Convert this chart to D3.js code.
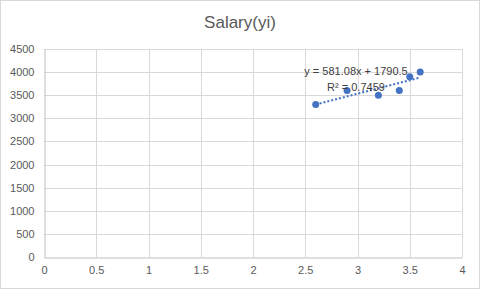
<!DOCTYPE html>
<html>
<head>
<meta charset="utf-8">
<script src="https://cdn.jsdelivr.net/npm/d3@7"></script>
<style>
  body { margin: 0; background: #fff; }
  svg { display: block; font-family: "Liberation Sans", "DejaVu Sans", sans-serif; }
</style>
</head>
<body>
<svg id="chart"></svg>
<script>
// data
const gpa = [2.6, 2.9, 3.2, 3.4, 3.5, 3.6];
const salary = [3300, 3600, 3500, 3600, 3900, 4000];
const xTicks = [0, 0.5, 1, 1.5, 2, 2.5, 3, 3.5, 4];
const yTicks = [0, 500, 1000, 1500, 2000, 2500, 3000, 3500, 4000, 4500];
const title = "Salary(yi)";

const width = 480, height = 289;
const svg = d3.select("#chart")
    .attr("width", width)
    .attr("height", height);

// outer chart border
svg.append("rect")
    .attr("x", 0.5).attr("y", 0.5)
    .attr("width", width - 1).attr("height", height - 1)
    .attr("fill", "#fff")
    .attr("stroke", "#d9d9d9");

svg.append("text")
    .attr("x", 240).attr("y", 28)
    .attr("text-anchor", "middle")
    .attr("font-size", 17)
    .attr("fill", "#595959")
    .text(title);

const xScale = d3.scaleLinear().domain([0, 4]).range([44, 462]);
const yScale = d3.scaleLinear().domain([0, 4500]).range([257, 49]);

// gridlines
svg.append("g").selectAll("line")
    .data(yTicks.slice(1))
    .enter().append("line")
    .attr("x1", xScale(0)).attr("x2", xScale(4))
    .attr("y1", d => Math.round(yScale(d)) + 0.5)
    .attr("y2", d => Math.round(yScale(d)) + 0.5)
    .attr("stroke", "#d9d9d9");
svg.append("g").selectAll("line")
    .data(xTicks.slice(1))
    .enter().append("line")
    .attr("y1", yScale(0)).attr("y2", yScale(4500))
    .attr("x1", d => Math.round(xScale(d)) + 0.5)
    .attr("x2", d => Math.round(xScale(d)) + 0.5)
    .attr("stroke", "#d9d9d9");

// axes
const xAxis = d3.axisBottom(xScale).tickValues(xTicks).tickSize(0).tickPadding(9).tickFormat(d3.format("~g"));
const gx = svg.append("g").attr("transform", `translate(0,${Math.round(yScale(0)) + 0.5})`).call(xAxis);
const yAxis = d3.axisLeft(yScale).tickValues(yTicks).tickSize(0).tickPadding(10).tickFormat(d3.format("d"));
const gy = svg.append("g").attr("transform", `translate(${Math.round(xScale(0)) + 0.5},0)`).call(yAxis);
[gx, gy].forEach(g => {
    g.select(".domain").attr("stroke", "#bfbfbf");
    g.selectAll("text").attr("fill", "#595959").attr("font-size", 11)
        .attr("font-family", "\"Liberation Sans\", sans-serif");
});

// linear trendline (least squares)
const n = gpa.length;
const mx = d3.mean(gpa), my = d3.mean(salary);
let sxy = 0, sxx = 0, syy = 0;
for (let i = 0; i < n; i++) {
    sxy += (gpa[i] - mx) * (salary[i] - my);
    sxx += (gpa[i] - mx) ** 2;
    syy += (salary[i] - my) ** 2;
}
const slope = sxy / sxx;
const intercept = my - slope * mx;
const r2 = sxy * sxy / (sxx * syy);
const x0 = d3.min(gpa), x1 = d3.max(gpa);

svg.append("line")
    .attr("x1", xScale(x0)).attr("y1", yScale(slope * x0 + intercept))
    .attr("x2", xScale(x1)).attr("y2", yScale(slope * x1 + intercept))
    .attr("stroke", "#4472c4")
    .attr("stroke-width", 2)
    .attr("stroke-dasharray", "2,2");

svg.append("g").selectAll("circle")
    .data(gpa.map((g, i) => [g, salary[i]]))
    .enter().append("circle")
    .attr("cx", d => xScale(d[0]))
    .attr("cy", d => yScale(d[1]))
    .attr("r", 3.5)
    .attr("fill", "#4472c4");

const label = svg.append("text")
    .attr("font-size", 11)
    .attr("fill", "#404040")
    .attr("text-anchor", "middle");
label.append("tspan").attr("x", 356).attr("y", 75)
    .text(`y = ${slope.toFixed(2)}x + ${intercept.toFixed(1)}`);
label.append("tspan").attr("x", 356).attr("y", 91)
    .text(`R² = ${r2.toFixed(4)}`);
</script>
</body>
</html>
